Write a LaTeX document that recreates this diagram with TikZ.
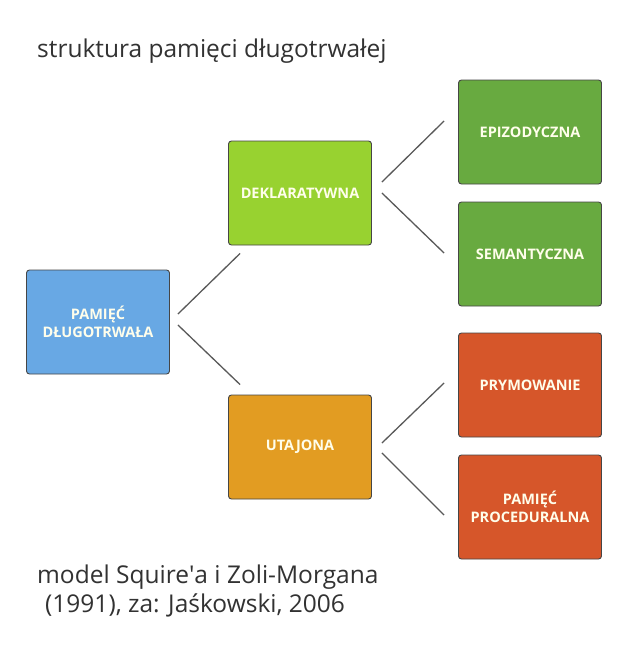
\documentclass[tikz,border=0pt]{standalone}
\usepackage{fontspec}
\setmainfont{Open Sans}
\usetikzlibrary{positioning,calc}
\definecolor{pamblue}{RGB}{104,168,228}
\definecolor{deklime}{RGB}{152,210,48}
\definecolor{epigreen}{RGB}{104,170,64}
\definecolor{utaorange}{RGB}{226,156,34}
\definecolor{prored}{RGB}{214,86,42}
\definecolor{edgegray}{RGB}{70,70,70}
\definecolor{captiongray}{RGB}{50,50,50}

\tikzset{
  membox/.style={draw=edgegray, line width=0.9pt, rounded corners=3pt, rectangle,
    minimum width=143pt, minimum height=104pt, align=center,
    font=\fontsize{14.5}{18}\selectfont\bfseries, text=white!92!yellow},
  link/.style={draw=edgegray!90, line width=1.3pt},
  caption/.style={font=\fontsize{24.5}{29}\selectfont, text=captiongray, anchor=base west, inner sep=0pt}
}

\begin{document}
\begin{tikzpicture}[x=1pt, y=-1pt]
  \useasboundingbox[fill=white] (0,0) rectangle (620,656);
  \node[caption] (title) at (37,57) {struktura pamięci długotrwałej};

  \node[membox, fill=pamblue] (pam) at (98,322) {PAMIĘĆ\\DŁUGOTRWAŁA};
  \node[membox, fill=deklime] (dek) at (300,193) {DEKLARATYWNA};
  \node[membox, fill=utaorange] (uta) at (300,447) {UTAJONA};
  \node[membox, fill=epigreen] (epi) at (530,132) {EPIZODYCZNA};
  \node[membox, fill=epigreen] (sem) at (530,254) {SEMANTYCZNA};
  \node[membox, fill=prored] (pry) at (530,385) {PRYMOWANIE};
  \node[membox, fill=prored] (pro) at (530,507) {PAMIĘĆ\\PROCEDURALNA};

  % connectors stop short of the boxes
  \draw[link] ($(pam.east)+(8,-8)$) -- ($(dek.south west)+(12,8)$);
  \draw[link] ($(pam.east)+(8,3)$) -- ($(uta.north west)+(12,-10)$);
  \draw[link] ($(dek.east)+(10,-11)$) -- ($(epi.west)+(-14,-11)$);
  \draw[link] ($(dek.east)+(10,0)$) -- ($(sem.west)+(-14,-1)$);
  \draw[link] ($(uta.east)+(10,-4)$) -- ($(pry.west)+(-14,-2)$);
  \draw[link] ($(uta.east)+(10,6)$) -- ($(pro.west)+(-14,8)$);

  \node[caption] (cap1) at (37,583) {model Squire\textquotesingle a i Zoli-Morgana};
  \node[caption] (cap2) at (45,612) {(1991), za: Jaśkowski, 2006};
\end{tikzpicture}
\end{document}
